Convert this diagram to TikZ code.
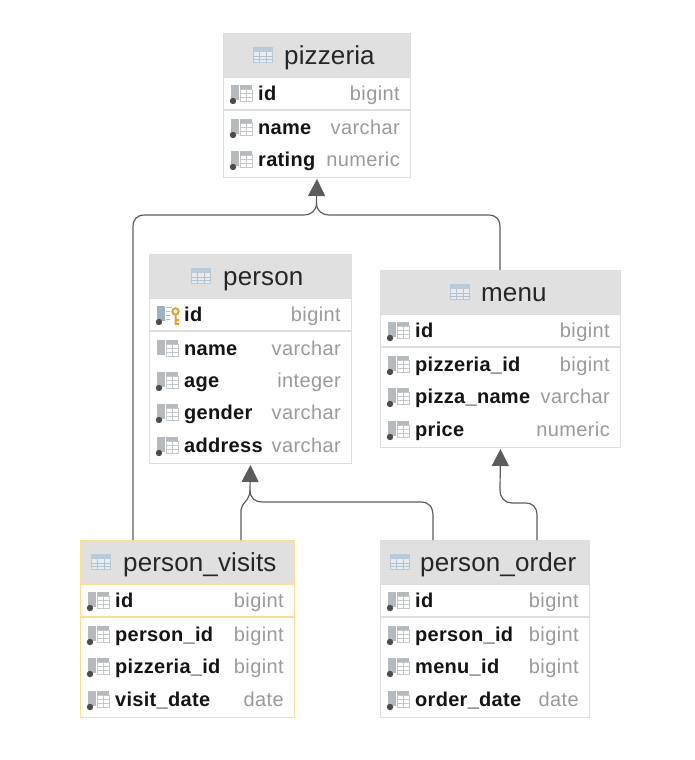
\documentclass[tikz,border=0pt]{standalone}
\usepackage{fontspec}
\setmainfont{Liberation Sans}
\newfontfamily\titlefont[LetterSpace=0.5]{Liberation Sans}
\newfontfamily\colfont[LetterSpace=1.5]{Liberation Sans Bold}
\newfontfamily\typefont[LetterSpace=2]{Liberation Sans}
\usetikzlibrary{arrows.meta}

\definecolor{headgray}{HTML}{E0E0E0}
\definecolor{framegray}{HTML}{DEDEDE}
\definecolor{frameyellow}{HTML}{F9DF94}
\definecolor{typegray}{HTML}{9A9A9A}
\definecolor{icongray}{HTML}{B4BABE}
\definecolor{iconblue}{HTML}{9DB3C4}
\definecolor{keyorange}{HTML}{E5A030}
\definecolor{linegray}{HTML}{5C5C5C}

\tikzset{
  tablebox/.style={draw=framegray, line width=1pt, fill=white, inner sep=0pt, anchor=north west},
  headbox/.style={tablebox, fill=headgray},
  titletext/.style={anchor=base west, inner sep=0pt, font=\titlefont\fontsize{26}{26}\selectfont, text=black!85},
  coltext/.style={anchor=base west, inner sep=0pt, font=\colfont\fontsize{20}{20}\selectfont, text=black!92},
  typetext/.style={anchor=base east, inner sep=0pt, font=\typefont\fontsize{20}{20}\selectfont, text=typegray},
  fkline/.style={draw=linegray, line width=1.2pt},
  fktip/.style={fkline, -{Triangle[width=17pt,length=17pt,fill=linegray]}, shorten >=1pt}
}

% small grid icon in a table header
\newcommand{\headicon}[2]{
  \fill[iconblue!70] (#1,#2-8) rectangle (#1+20,#2+8);
  \fill[iconblue!25] (#1+1,#2-3) rectangle (#1+19,#2+7);
  \foreach \gy in {1,4} \draw[iconblue!80, line width=0.6pt] (#1,#2+\gy) -- (#1+20,#2+\gy);
  \foreach \gx in {6,13} \draw[iconblue!80, line width=0.6pt] (#1+\gx,#2-3) -- (#1+\gx,#2+8);
}

% column icon without dot: bar and small grid
\newcommand{\colbare}[2]{
  \fill[icongray] (#1,#2-9) rectangle (#1+8,#2+6);
  \fill[icongray] (#1+9,#2-9) rectangle (#1+21,#2-5);
  \draw[icongray!80, line width=0.8pt] (#1+9.5,#2-5) rectangle (#1+21,#2+7);
  \draw[icongray!80, line width=0.7pt] (#1+9.5,#2-1) -- (#1+21,#2-1) (#1+9.5,#2+3) -- (#1+21,#2+3) (#1+15,#2-5) -- (#1+15,#2+7);
}

% column icon with the dot
\newcommand{\colicon}[2]{
  \colbare{#1}{#2}
  \fill[black!70] (#1+2,#2+7) circle (3.2);
}

% table with frame, header, title and the line under the id row
\newcommand{\dbtable}[8]{
  \node[tablebox, draw=\framecol, minimum width={(#4-#2)*1pt}, minimum height={(#5-#3)*1pt}] (#1) at (#2,#3) {};
  \node[headbox, draw=\framecol, minimum width={(#4-#2)*1pt}, minimum height=44pt] (#1 head) at (#2,#3) {};
  \headicon{#6}{#3+22}
  \node[titletext] (#1 title) at (#7,#3+31) {#8};
  \draw[draw=\framecol, line width=1.2pt] (#2,#3+77) -- (#4,#3+77);
}

% texts of one row: name at left, type at right
\newcommand{\dbtext}[7]{
  \node[coltext] (#1 name#5) at (#2+35,#4+6) {#6};
  \node[typetext] (#1 type#5) at (#3-10,#4+6) {#7};
}

% one row with its icon
\newcommand{\dbrow}[7]{
  \colicon{#2+8}{#4}
  \dbtext{#1}{#2}{#3}{#4}{#5}{#6}{#7}
}

\begin{document}
\begin{tikzpicture}[x=1pt,y=-1pt]

  \useasboundingbox (0,0) rectangle (695,760);

  % pizzeria
  \def\framecol{framegray}
  \dbtable{pizzeria}{223}{33}{410}{177}{253}{284}{pizzeria}
  \dbrow{pizzeria}{223}{410}{94}{1}{id}{bigint}
  \dbrow{pizzeria}{223}{410}{128}{2}{name}{varchar}
  \dbrow{pizzeria}{223}{410}{160}{3}{rating}{numeric}

  % person
  \dbtable{person}{149}{254}{351}{463}{191}{223}{person}
  \dbtext{person}{149}{351}{315}{1}{id}{bigint}
  \colbare{157}{349}
  \dbtext{person}{149}{351}{349}{2}{name}{varchar}
  \dbrow{person}{149}{351}{381}{3}{age}{integer}
  \dbrow{person}{149}{351}{413}{4}{gender}{varchar}
  \dbrow{person}{149}{351}{446}{5}{address}{varchar}

  % icon of the primary column of person, with its key
  \fill[iconblue] (157,306) rectangle (165,321);
  \draw[icongray, line width=0.8pt] (166,307) -- (172,307) (166,311) -- (170,311) (166,315) -- (170,315) (166,319) -- (170,319);
  \fill[black!70] (159,322) circle (3.2);
  \draw[keyorange, line width=2pt] (175.5,311.5) circle (3.2) (175.5,315) -- (175.5,325) (175.5,320) -- (179,320) (175.5,324) -- (179,324);

  % menu
  \dbtable{menu}{380}{270}{620}{447}{450}{481}{menu}
  \dbrow{menu}{380}{620}{331}{1}{id}{bigint}
  \dbrow{menu}{380}{620}{365}{2}{pizzeria\_id}{bigint}
  \dbrow{menu}{380}{620}{397}{3}{pizza\_name}{varchar}
  \dbrow{menu}{380}{620}{430}{4}{price}{numeric}

  % person_visits has the yellow frame
  \def\framecol{frameyellow}
  \dbtable{visits}{80}{540}{294}{717}{91}{123}{person\_visits}
  \dbrow{visits}{80}{294}{601}{1}{id}{bigint}
  \dbrow{visits}{80}{294}{635}{2}{person\_id}{bigint}
  \dbrow{visits}{80}{294}{667}{3}{pizzeria\_id}{bigint}
  \dbrow{visits}{80}{294}{700}{4}{visit\_date}{date}

  % person_order
  \def\framecol{framegray}
  \dbtable{order}{380}{540}{589}{717}{390}{420}{person\_order}
  \dbrow{order}{380}{589}{601}{1}{id}{bigint}
  \dbrow{order}{380}{589}{635}{2}{person\_id}{bigint}
  \dbrow{order}{380}{589}{667}{3}{menu\_id}{bigint}
  \dbrow{order}{380}{589}{700}{4}{order\_date}{date}

  % free ends of the connectors, on the table edges
  \coordinate (visits out a) at (133,540);
  \coordinate (visits out b) at (241,540);
  \coordinate (order out a) at (433,540);
  \coordinate (order out b) at (537,540);
  \coordinate (menu out) at (500,270);

  % into pizzeria
  \coordinate (pizzeria join) at (316.5,203);
  \draw[fkline] (visits out a) -- (133,227) .. controls (133,219) and (137,215) .. (145,215) -- (303,215) .. controls (311,215) and (316.5,211) .. (pizzeria join);
  \draw[fkline] (menu out) -- (500,227) .. controls (500,219) and (496,215) .. (488,215) -- (330,215) .. controls (322,215) and (316.5,211) .. (pizzeria join);
  \draw[fktip] (pizzeria join) -- (pizzeria.south);

  % into person
  \coordinate (person join) at (250,490);
  \draw[fkline] (visits out b) -- (241,510) .. controls (241,503) and (250,501) .. (person join);
  \draw[fkline] (order out a) -- (433,516) .. controls (433,507) and (429,502) .. (421,502) -- (262,502) .. controls (255,502) and (250,498) .. (person join);
  \draw[fktip] (person join) -- (person.south);

  % into menu
  \coordinate (menu join) at (500,490);
  \draw[fkline] (order out b) -- (537,516) .. controls (537,507) and (533,503) .. (525,503) -- (512,503) .. controls (505,503) and (500,498) .. (menu join);
  \draw[fktip] (menu join) -- (menu.south);

\end{tikzpicture}
\end{document}
